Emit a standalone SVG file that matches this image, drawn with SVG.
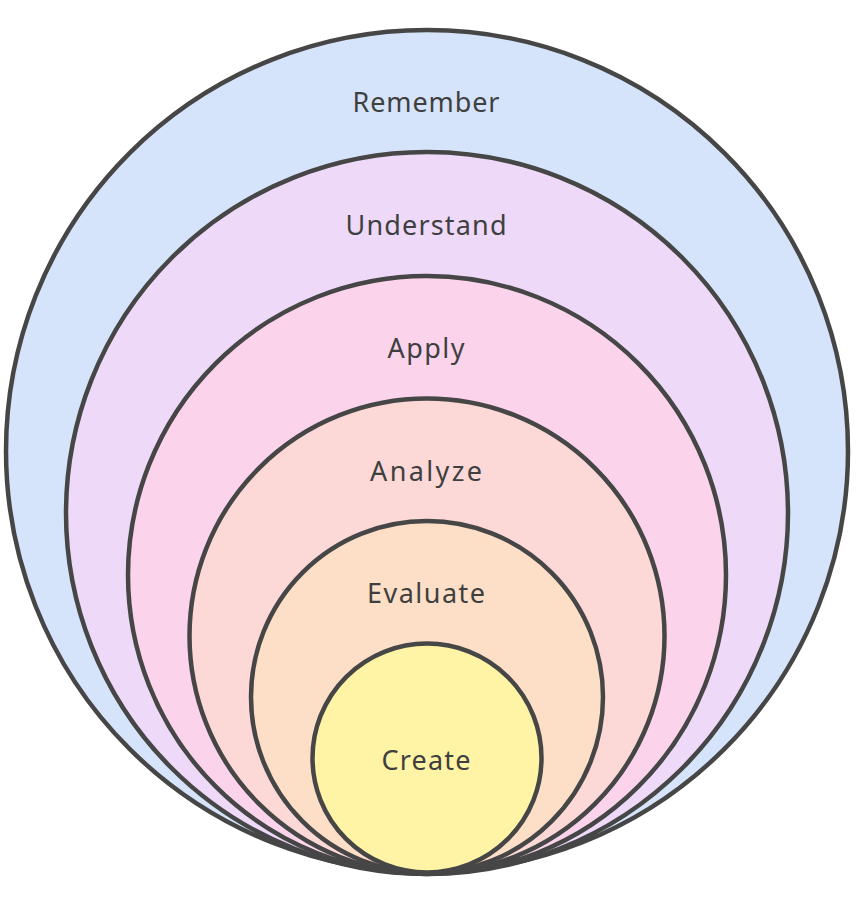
<svg xmlns="http://www.w3.org/2000/svg" width="866" height="906" viewBox="0 0 866 906">
  <style>
    .ring { stroke: #464646; stroke-width: 4.5; }
    .lbl { font-family: "Noto Sans", "Liberation Sans", sans-serif; font-size: 27px; fill: #3f3f3f; text-anchor: middle; lengthAdjust: spacing; }
  </style>
  <rect width="866" height="906" fill="#ffffff"/>
  <g id="remember">
    <circle class="ring" cx="427" cy="451" r="421" fill="#d5e4fa"/>
    <text class="lbl" x="426" y="112" textLength="147" lengthAdjust="spacing">Remember</text>
  </g>
  <g id="understand">
    <circle class="ring" cx="427" cy="513" r="361" fill="#eed9f9"/>
    <text class="lbl" x="426" y="235" textLength="161" lengthAdjust="spacing">Understand</text>
  </g>
  <g id="apply">
    <circle class="ring" cx="427" cy="575" r="299" fill="#fbd4ec"/>
    <text class="lbl" x="426" y="358" textLength="77" lengthAdjust="spacing">Apply</text>
  </g>
  <g id="analyze">
    <circle class="ring" cx="427" cy="636" r="237.5" fill="#fcd8d6"/>
    <text class="lbl" x="426" y="481" textLength="112" lengthAdjust="spacing">Analyze</text>
  </g>
  <g id="evaluate">
    <circle class="ring" cx="427" cy="697" r="176" fill="#fddfc8"/>
    <text class="lbl" x="426" y="603" textLength="118" lengthAdjust="spacing">Evaluate</text>
  </g>
  <g id="create">
    <circle class="ring" cx="427" cy="758" r="114.5" fill="#fff4a6"/>
    <text class="lbl" x="426" y="770" textLength="89" lengthAdjust="spacing">Create</text>
  </g>
  <g id="connectors"></g>
</svg>
